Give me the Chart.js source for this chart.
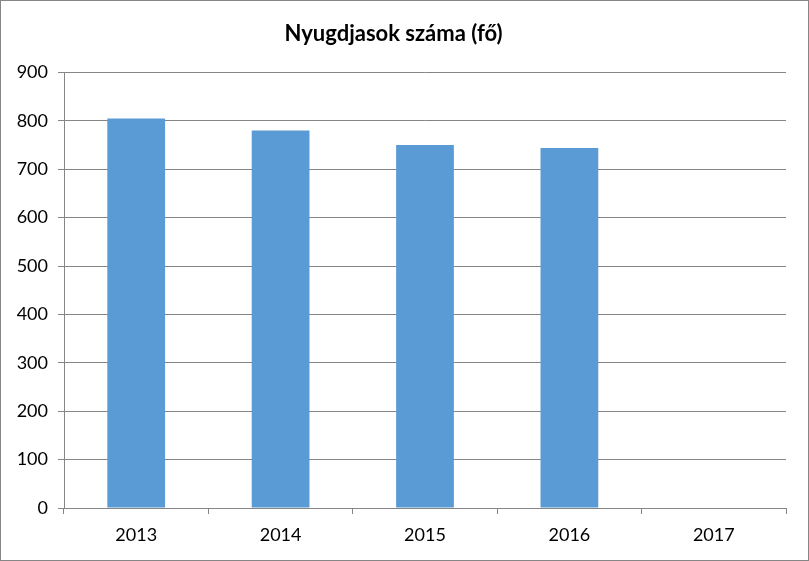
<!DOCTYPE html>
<html lang="hu">
<head>
<meta charset="UTF-8">
<title>Nyugdjasok száma</title>
<script src="https://cdn.jsdelivr.net/npm/chart.js"></script>
<style>
  body { margin: 0; background: #fff; }
  #wrap { width: 809px; height: 561px; box-sizing: border-box; border: 1px solid #868686; }
</style>
</head>
<body>
<div id="wrap"><canvas id="chart" width="807" height="559"></canvas></div>
<script>
// adatok
const evek = ["2013", "2014", "2015", "2016", "2017"];
const nyugdijasok = [805, 780, 750, 744, null];
const yTicks = [0, 100, 200, 300, 400, 500, 600, 700, 800, 900];

const gridSzin = "#868686";
const betu = "Lato, 'Liberation Sans', sans-serif";

new Chart(document.getElementById("chart"), {
    type: "bar",
    data: {
        labels: evek,
        datasets: [{
            label: "Nyugdjasok száma (fő)",
            data: nyugdijasok,
            backgroundColor: "#5B9BD5",
            barPercentage: 0.4,
            categoryPercentage: 1.0
        }]
    },
    options: {
        responsive: false,
        animation: false,
        devicePixelRatio: 1,
        layout: { padding: { left: 0, right: 22, top: 0, bottom: 0 } },
        plugins: {
            legend: { display: false },
            tooltip: { enabled: false },
            title: {
                display: true,
                text: "Nyugdjasok száma (fő)",
                color: "#000",
                font: { family: betu, size: 22, weight: "bold" },
                padding: { top: 20, bottom: 25 }
            }
        },
        scales: {
            x: {
                grid: { drawOnChartArea: false, drawTicks: true, tickLength: 6, color: gridSzin, offset: true },
                border: { color: gridSzin },
                ticks: { color: "#000", font: { family: betu, size: 18 }, padding: 10 },
                afterFit: s => { s.height = 52; }
            },
            y: {
                min: 0,
                max: 900,
                afterBuildTicks: s => { s.ticks = yTicks.map(v => ({ value: v })); },
                grid: { color: gridSzin, tickLength: 6 },
                border: { color: gridSzin },
                ticks: { color: "#000", font: { family: betu, size: 18 }, padding: 10 },
                afterFit: s => { s.width = 63; }
            }
        }
    }
});
</script>
</body>
</html>
